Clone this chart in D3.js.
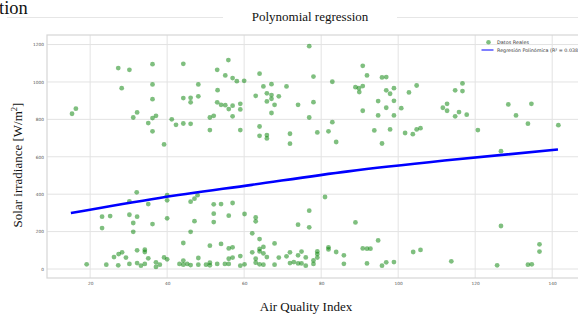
<!DOCTYPE html>
<html lang="en">
<head>
<meta charset="UTF-8">
<title>Polynomial regression</title>
<style>
  body { margin: 0; background: #fff; }
  svg { display: block; }
</style>
</head>
<body>
<script src="https://cdn.jsdelivr.net/npm/d3@7"></script>
<script>
// Air Quality Index (x) and solar irradiance W/m2 (y)
var aqi = [
  27.3,30.2,36.2,28.2,36.2,16.3,15.3,36.2,32.2,31.2,36.2,35.1,36.2,32.1,30.2,35.1,23.1,25.2,30.2,32.2,
  23.1,31.2,36.2,31.2,32.2,34.2,34.2,28.3,27.4,26.2,29.3,35.1,19.1,24.2,27.3,30.2,32.2,33.2,34.2,
  37.1,44.2,55.9,53.0,55.1,57.0,58.1,60.0,48.1,53.1,46.1,44.2,48.1,46.1,53.0,54.0,55.1,57.0,59.0,56.0,
  59.0,41.2,51.1,52.1,57.0,42.3,44.2,46.1,51.1,59.0,39.2,40.0,40.0,47.1,46.1,47.9,52.1,54.0,57.0,40.0,
  52.1,56.0,47.1,52.1,60.1,46.1,44.2,51.1,54.0,56.0,57.0,37.1,37.1,38.1,39.2,40.0,43.2,44.2,44.2,45.2,
  46.1,48.1,48.1,50.1,51.1,51.1,53.0,55.0,56.0,56.0,57.0,59.0,59.0,60.1,
  76.9,64.0,78.0,65.0,67.1,71.0,63.0,65.9,67.1,67.1,69.0,65.9,67.9,74.0,78.0,82.9,67.1,76.9,64.0,82.9,
  64.0,65.9,65.9,71.9,79.0,81.9,83.9,71.9,81.0,63.0,63.0,76.9,74.0,76.9,62.1,64.0,67.9,65.0,64.0,64.0,
  65.0,62.1,65.9,63.0,63.0,64.0,65.0,67.9,69.0,71.0,71.9,71.9,72.9,74.0,74.0,74.9,74.9,76.0,76.0,78.0,
  78.0,79.0,79.0,79.0,81.9,81.9,83.9,85.9,85.9,
  90.8,91.9,95.8,96.9,88.9,89.8,90.8,89.9,96.9,98.9,97.9,104.8,102.8,94.8,98.9,90.8,96.9,100.8,94.8,98.9,
  93.8,97.9,101.8,103.8,104.8,105.8,95.8,88.9,94.8,90.8,91.9,92.8,103.9,105.8,91.9,95.8,96.9,98.9,
  116.7,114.8,116.7,111.6,112.7,112.7,114.8,115.8,117.8,120.7,128.6,130.6,134.6,133.7,141.6,126.7,126.7,
  136.7,136.7,113.8,125.7,133.7,134.7
];
var irradiance = [
  1074,1065,1095,967,987,857,830,908,837,810,807,780,736,410,362,347,280,283,290,280,
  219,246,240,199,100,103,91,89,80,64,61,57,25,23,20,27,32,18,27,
  819,1097,1117,1065,1035,1021,1004,1006,987,956,915,914,923,891,891,878,876,873,883,855,
  853,800,810,819,816,771,778,776,743,743,666,395,367,376,360,395,346,347,353,271,
  296,285,256,251,294,199,139,125,134,110,116,36,11,23,62,52,27,45,23,27,
  21,59,23,23,34,20,27,27,55,27,61,69,18,25,
  1191,1044,1029,976,988,976,926,939,930,910,923,896,878,878,892,1001,834,810,762,785,
  712,716,698,723,730,736,679,670,385,276,255,312,237,223,191,160,137,118,107,94,
  84,89,64,55,34,25,23,23,61,68,89,32,37,73,30,93,30,62,18,46,
  27,94,80,61,116,105,91,73,28,
  1086,1035,1024,1026,972,967,978,946,955,967,937,981,944,898,899,846,862,860,821,821,
  741,746,727,721,746,753,671,249,153,110,109,109,91,102,30,18,36,37,
  992,955,951,862,883,846,816,839,825,743,880,821,883,777,769,630,230,
  132,93,41,20,23,25
];

// fitted polynomial curve at a few x positions
var regX = [15, 38, 62, 87, 112, 141.5];
var regY = [299, 380, 450, 522, 580, 639];

var xTicks = [20, 40, 60, 80, 100, 120, 140];
var yTicks = [0, 200, 400, 600, 800, 1000, 1200];

var W = 578, H = 315;
var plot = {left: 47, right: 583, top: 35, bottom: 278};
var smallFont = "DejaVu Sans, Liberation Sans, sans-serif";
var serif = "Liberation Serif, serif";

var svg = d3.select("body").append("svg")
    .attr("width", W).attr("height", H);

svg.append("rect").attr("width", W).attr("height", H).attr("fill", "#fff");

// page fragments around the figure
svg.append("text")
    .attr("x", -1).attr("y", 14)
    .attr("font-family", serif)
    .attr("font-size", 18.5).attr("fill", "#111")
    .text("tion");

svg.append("line").attr("x1", 7).attr("x2", 223).attr("y1", 17.5).attr("y2", 17.5)
    .attr("stroke", "#e6e6e6").attr("stroke-width", 1);
svg.append("line").attr("x1", 397).attr("x2", 578).attr("y1", 17.5).attr("y2", 17.5)
    .attr("stroke", "#e6e6e6").attr("stroke-width", 1);

svg.append("text")
    .attr("x", 310).attr("y", 20.5)
    .attr("text-anchor", "middle")
    .attr("font-family", serif)
    .attr("font-size", 13).attr("fill", "#111")
    .text("Polynomial regression");

var x = d3.scaleLinear().domain([8.8, 148]).range([plot.left, plot.right]);
var y = d3.scaleLinear().domain([-48, 1251]).range([plot.bottom, plot.top]);

var g = svg.append("g");

// grid
g.selectAll(".vg").data(xTicks).enter().append("line")
    .attr("x1", d => x(d)).attr("x2", d => x(d))
    .attr("y1", plot.top).attr("y2", plot.bottom)
    .attr("stroke", "#e3e3e3").attr("stroke-width", 1);
g.selectAll(".hg").data(yTicks).enter().append("line")
    .attr("x1", plot.left).attr("x2", plot.right)
    .attr("y1", d => y(d)).attr("y2", d => y(d))
    .attr("stroke", "#e3e3e3").attr("stroke-width", 1);

// frame
g.append("rect")
    .attr("x", plot.left).attr("y", plot.top)
    .attr("width", plot.right - plot.left).attr("height", plot.bottom - plot.top)
    .attr("fill", "none").attr("stroke", "#d6d6d6").attr("stroke-width", 1.2);

// axes (labels only, no tick marks)
var xAxis = g.append("g")
    .attr("transform", "translate(0," + (plot.bottom + 2) + ")")
    .call(d3.axisBottom(x).tickValues(xTicks).tickFormat(d3.format("d")).tickSize(0).tickPadding(2));
var yAxis = g.append("g")
    .attr("transform", "translate(" + (plot.left - 1.5) + ",0)")
    .call(d3.axisLeft(y).tickValues(yTicks).tickFormat(d3.format("d")).tickSize(0).tickPadding(1.5));
[xAxis, yAxis].forEach(function(a) {
    a.select(".domain").remove();
    a.selectAll("text")
        .attr("font-family", smallFont)
        .attr("font-size", 4.3)
        .attr("fill", "#555");
});

// scatter
var pts = aqi.map((v, i) => [v, irradiance[i]]);
g.selectAll(".pt").data(pts).enter().append("circle")
    .attr("cx", d => x(d[0])).attr("cy", d => y(d[1]))
    .attr("r", 2.4)
    .attr("fill", "green").attr("fill-opacity", 0.5);

// regression curve
var reg = regX.map((v, i) => [v, regY[i]]);
g.append("path")
    .datum(reg)
    .attr("d", d3.line().x(d => x(d[0])).y(d => y(d[1])).curve(d3.curveMonotoneX))
    .attr("fill", "none").attr("stroke", "#0000ff").attr("stroke-width", 2.6);

// legend
var lg = g.append("g")
    .attr("font-family", smallFont)
    .attr("font-size", 4.8).attr("fill", "#333");
lg.append("circle").attr("cx", 488.5).attr("cy", 42.3).attr("r", 2.3)
    .attr("fill", "green").attr("fill-opacity", 0.5);
lg.append("text").attr("x", 497).attr("y", 44)
    .attr("textLength", 32).attr("lengthAdjust", "spacingAndGlyphs")
    .text("Datos Reales");
lg.append("line").attr("x1", 481.5).attr("x2", 493.5).attr("y1", 50).attr("y2", 50)
    .attr("stroke", "#0000ff").attr("stroke-width", 1);
lg.append("text").attr("x", 497).attr("y", 51.8)
    .attr("textLength", 83).attr("lengthAdjust", "spacingAndGlyphs")
    .text("Regresión Polinómica (R² = 0.038)");

// axis titles
svg.append("text")
    .attr("x", 306).attr("y", 310.5)
    .attr("text-anchor", "middle")
    .attr("font-family", serif)
    .attr("font-size", 13).attr("fill", "#111")
    .text("Air Quality Index");

var yl = svg.append("text")
    .attr("transform", "translate(22,165) rotate(-90)")
    .attr("text-anchor", "middle")
    .attr("font-family", serif)
    .attr("font-size", 13).attr("fill", "#111");
yl.append("tspan").text("Solar irradiance [W/m");
yl.append("tspan").attr("dy", -5).attr("font-size", 8.5).text("2");
yl.append("tspan").attr("dy", 5).text("]");
</script>
</body>
</html>
